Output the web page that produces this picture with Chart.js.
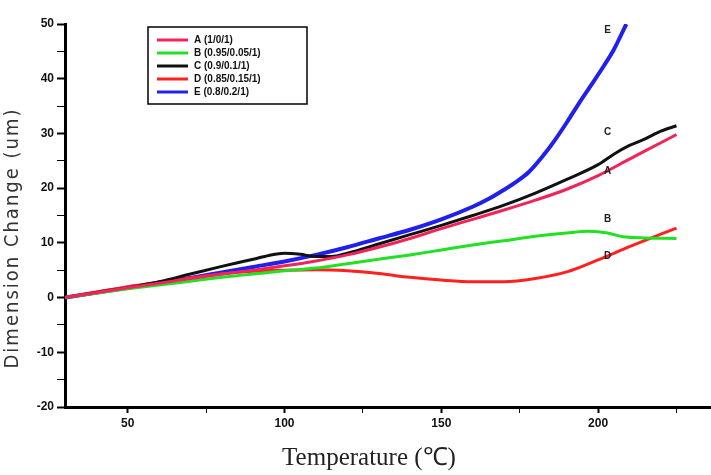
<!DOCTYPE html>
<html>
<head>
<meta charset="utf-8">
<script src="https://cdn.jsdelivr.net/npm/chart.js@4/dist/chart.umd.min.js"></script>
<style>
  html, body { margin: 0; padding: 0; background: #fff; }
  #wrap { width: 711px; height: 475px; }
</style>
</head>
<body>
<div id="wrap"><canvas id="expChart" width="711" height="475"></canvas></div>
<script>
// temperatures (°C) and dimension change (um)
const tempA = [30, 40, 50, 60, 70, 80, 90, 100, 110, 120, 130, 140, 150, 160, 170, 180, 190, 200, 210, 220, 225];
const valA  = [0, 0.9, 1.8, 2.6, 3.5, 4.3, 5.0, 5.8, 6.7, 7.8, 9.2, 10.8, 12.6, 14.3, 16.0, 17.8, 19.8, 22.3, 25.3, 28.3, 29.8];

const tempB = [30, 40, 50, 60, 70, 80, 90, 100, 110, 120, 130, 140, 150, 160, 170, 180, 190, 197, 203, 208, 215, 225];
const valB  = [0, 0.8, 1.6, 2.3, 3.0, 3.7, 4.3, 4.9, 5.4, 6.2, 7.0, 7.8, 8.7, 9.6, 10.4, 11.2, 11.8, 12.1, 11.8, 11.1, 10.9, 10.8];

const tempC = [30, 40, 50, 60, 70, 80, 90, 95, 100, 105, 110, 115, 120, 130, 140, 150, 160, 170, 180, 190, 200, 205, 210, 215, 220, 225];
const valC  = [0, 0.9, 1.8, 2.9, 4.3, 5.7, 7.0, 7.7, 8.1, 7.9, 7.5, 7.5, 8.1, 9.8, 11.5, 13.2, 15.0, 16.9, 19.1, 21.6, 24.3, 26.2, 27.8, 29.0, 30.4, 31.4];

const tempD = [30, 40, 50, 60, 70, 80, 90, 100, 110, 120, 130, 140, 150, 160, 170, 180, 190, 200, 210, 220, 225];
const valD  = [0, 1.0, 2.0, 2.8, 3.6, 4.3, 4.8, 5.0, 5.1, 4.9, 4.4, 3.7, 3.2, 2.9, 2.9, 3.5, 4.7, 6.9, 9.3, 11.6, 12.7];

const tempE = [30, 40, 50, 60, 70, 80, 90, 100, 110, 120, 130, 140, 150, 160, 165, 170, 174, 178, 182, 186, 190, 194, 198, 202, 205, 209];
const valE  = [0, 0.9, 1.8, 2.7, 3.6, 4.6, 5.6, 6.6, 7.8, 9.2, 10.8, 12.4, 14.3, 16.6, 18.0, 19.7, 21.2, 23.0, 25.6, 28.6, 32.0, 35.6, 39.0, 42.5, 45.3, 50.0];

const seriesNames = ['A (1/0/1)', 'B (0.95/0.05/1)', 'C (0.9/0.1/1)', 'D (0.85/0.15/1)', 'E (0.8/0.2/1)'];

// letters written next to the curve ends, in data units
const tagNames = ['E', 'C', 'A', 'B', 'D'];
const tagX     = [203, 203, 203, 203, 203];
const tagY     = [48.8, 30.3, 23.0, 14.4, 7.5];

const xTicks = [50, 75, 100, 125, 150, 175, 200, 225];
const yTicks = [-20, -15, -10, -5, 0, 5, 10, 15, 20, 25, 30, 35, 40, 45, 50];

const xTitle = 'Temperature (℃)';
const yTitle = 'Dimension Change (um)';

function pts(xs, ys) {
    return xs.map((x, i) => ({ x: x, y: ys[i] }));
}

function line(label, xs, ys, color, width) {
    return {
        label: label,
        data: pts(xs, ys),
        borderColor: color,
        backgroundColor: color,
        borderWidth: width,
        pointRadius: 0,
        tension: 0.4,
        cubicInterpolationMode: 'monotone',
        fill: false
    };
}

// boxed legend drawn inside the plot, top left
const boxLegend = {
    id: 'boxLegend',
    afterDatasetsDraw(chart) {
        const ctx = chart.ctx;
        const x0 = 148, y0 = 27, w = 159, h = 77;
        ctx.save();
        ctx.fillStyle = '#fff';
        ctx.fillRect(x0, y0, w, h);
        ctx.strokeStyle = '#000';
        ctx.lineWidth = 1.5;
        ctx.strokeRect(x0, y0, w, h);
        ctx.font = 'bold 10px "Liberation Sans", Arial, sans-serif';
        ctx.textBaseline = 'middle';
        chart.data.datasets.forEach((ds, i) => {
            const y = y0 + 13 + i * 13;
            ctx.strokeStyle = ds.borderColor;
            ctx.lineWidth = 3;
            ctx.beginPath();
            ctx.moveTo(x0 + 9, y);
            ctx.lineTo(x0 + 40, y);
            ctx.stroke();
            ctx.fillStyle = '#111';
            ctx.fillText(ds.label, x0 + 46, y);
        });
        ctx.restore();
    }
};

const curveTags = {
    id: 'curveTags',
    afterDatasetsDraw(chart) {
        const ctx = chart.ctx;
        const xs = chart.scales.x, ys = chart.scales.y;
        ctx.save();
        ctx.font = 'bold 10px "Liberation Sans", Arial, sans-serif';
        ctx.fillStyle = '#222';
        ctx.textAlign = 'center';
        ctx.textBaseline = 'middle';
        tagNames.forEach((t, i) => {
            ctx.fillText(t, xs.getPixelForValue(tagX[i]), ys.getPixelForValue(tagY[i]));
        });
        ctx.restore();
    }
};

// axis titles, drawn by hand so the spacing can follow the scan
const axisTitles = {
    id: 'axisTitles',
    afterDraw(chart) {
        const ctx = chart.ctx;
        ctx.save();
        ctx.fillStyle = '#222';
        ctx.textAlign = 'center';
        ctx.textBaseline = 'middle';
        ctx.font = '25px "Liberation Serif", serif';
        ctx.fillText(xTitle, 369, 458);
        ctx.translate(13, 238);
        ctx.rotate(-Math.PI / 2);
        ctx.fillStyle = '#333';
        ctx.font = '20px "DejaVu Sans Condensed", "DejaVu Sans", sans-serif';
        ctx.letterSpacing = '2px';
        ctx.fillText(yTitle, 0, 0);
        ctx.restore();
    }
};

function initChart() {
    const ctx = document.getElementById('expChart').getContext('2d');
    new Chart(ctx, {
        type: 'line',
        data: {
            datasets: [
                line(seriesNames[0], tempA, valA, '#f0245a', 3),
                line(seriesNames[1], tempB, valB, '#22e022', 3),
                line(seriesNames[2], tempC, valC, '#111111', 3),
                line(seriesNames[3], tempD, valD, '#ff2020', 3),
                line(seriesNames[4], tempE, valE, '#2020ee', 4)
            ]
        },
        options: {
            responsive: false,
            animation: false,
            layout: { padding: { top: 24, right: 0, left: 0, bottom: 0 } },
            plugins: {
                legend: { display: false },
                tooltip: { enabled: false }
            },
            scales: {
                x: {
                    type: 'linear',
                    min: 30,
                    max: 236,
                    afterBuildTicks: s => { s.ticks = xTicks.map(v => ({ value: v })); },
                    afterFit: s => { s.height = 68; },
                    border: { display: true, color: '#000', width: 3 },
                    grid: {
                        drawOnChartArea: false,
                        tickLength: 6,
                        tickColor: '#000',
                        tickWidth: c => (c.tick && c.tick.value % 50 === 0) ? 2 : 1
                    },
                    ticks: {
                        autoSkip: false,
                        maxRotation: 0,
                        padding: 3,
                        color: '#111',
                        font: { family: '"Liberation Sans", Arial, sans-serif', size: 12, weight: 'bold' },
                        callback: v => (v % 50 === 0 ? v : '')
                    }
                },
                y: {
                    min: -20,
                    max: 50,
                    afterBuildTicks: s => { s.ticks = yTicks.map(v => ({ value: v })); },
                    afterFit: s => { s.width = 65; },
                    border: { display: true, color: '#000', width: 3 },
                    grid: {
                        drawOnChartArea: false,
                        tickLength: 8,
                        tickColor: '#000',
                        tickWidth: c => (c.tick && c.tick.value % 10 === 0) ? 2 : 1
                    },
                    ticks: {
                        autoSkip: false,
                        padding: 3,
                        color: '#111',
                        font: { family: '"Liberation Sans", Arial, sans-serif', size: 12, weight: 'bold' },
                        callback: v => (v % 10 === 0 ? v : '')
                    }
                }
            }
        },
        plugins: [boxLegend, curveTags, axisTitles]
    });
}

document.addEventListener('DOMContentLoaded', initChart);
</script>
</body>
</html>
